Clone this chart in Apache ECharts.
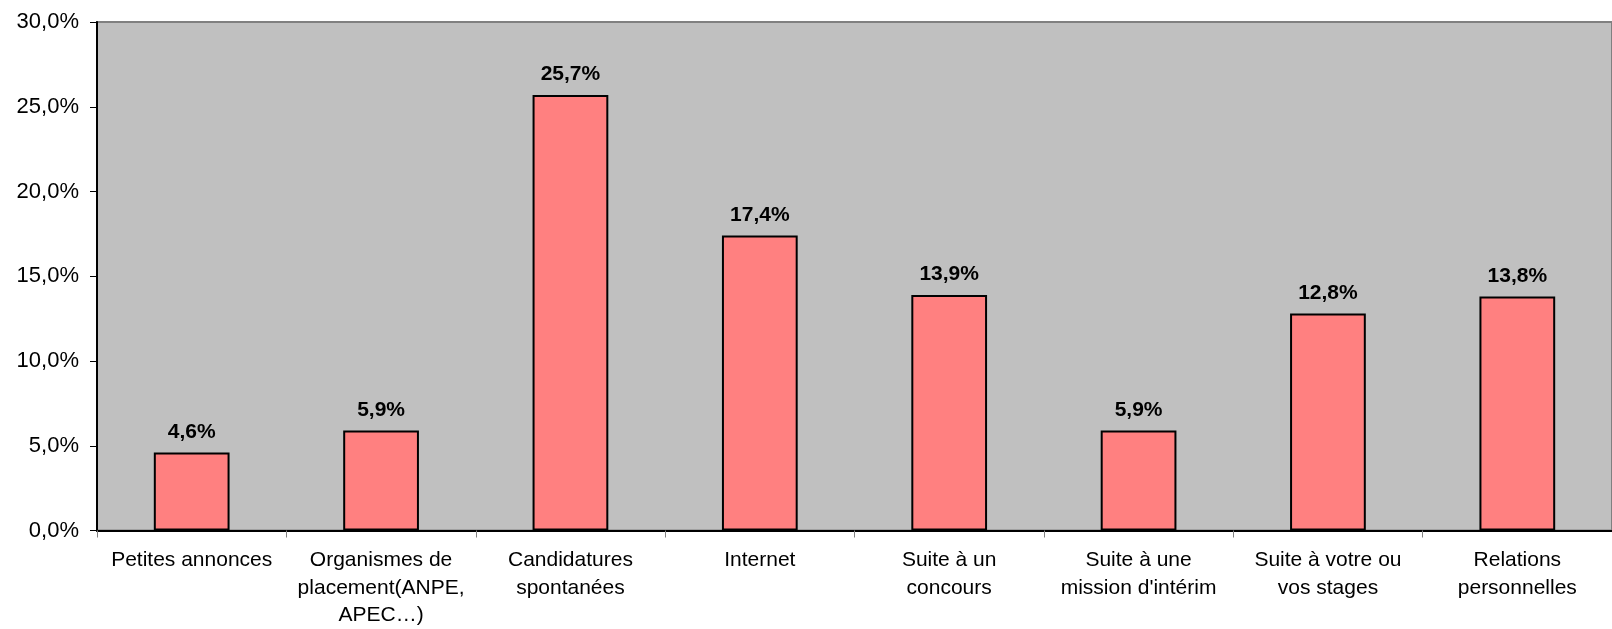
<!DOCTYPE html>
<html>
<head>
<meta charset="utf-8">
<script src="https://cdn.jsdelivr.net/npm/echarts@6/dist/echarts.min.js"></script>
<style>
html,body{margin:0;padding:0;background:#fff;}
#c{width:1612px;height:629px;}
</style>
</head>
<body>
<div id="c"></div>
<script>
const categories = [
  "Petites annonces",
  "Organismes de\nplacement(ANPE,\nAPEC…)",
  "Candidatures\nspontanées",
  "Internet",
  "Suite à un\nconcours",
  "Suite à une\nmission d'intérim",
  "Suite à votre ou\nvos stages",
  "Relations\npersonnelles"
];
const values = [4.6, 5.9, 25.7, 17.4, 13.9, 5.9, 12.8, 13.8];
const yTicks = { min: 0, max: 30, interval: 5 };

const FONT = "'Liberation Sans', Arial, sans-serif";
const fmt = v => v.toFixed(1).replace('.', ',') + '%';

const chart = echarts.init(document.getElementById('c'));
chart.setOption({
  animation: false,
  backgroundColor: '#ffffff',
  grid: {
    left: 97, top: 22, right: -18, bottom: 94,
    show: true, backgroundColor: '#C0C0C0', borderColor: '#808080', borderWidth: 2
  },
  xAxis: {
    type: 'category',
    data: categories,
    axisLine: { show: true, lineStyle: { color: '#000', width: 2 } },
    axisTick: { show: true, length: 7, alignWithLabel: false, lineStyle: { color: '#808080', width: 1 } },
    axisLabel: {
      interval: 0, color: '#000', fontFamily: FONT, fontSize: 21, lineHeight: 27.5, margin: 16
    },
    splitLine: { show: false }
  },
  yAxis: {
    type: 'value',
    min: yTicks.min, max: yTicks.max, interval: yTicks.interval,
    axisLine: { show: true, lineStyle: { color: '#000', width: 2 } },
    axisTick: { show: true, length: 7, lineStyle: { color: '#000', width: 1 } },
    axisLabel: { color: '#000', fontFamily: FONT, fontSize: 22, margin: 18, formatter: fmt },
    splitLine: { show: false }
  },
  series: [{
    type: 'bar',
    data: values,
    barCategoryGap: '60%',
    itemStyle: { color: '#FF8080', borderColor: '#000', borderWidth: 2 },
    label: {
      show: true, position: 'top', distance: 10,
      color: '#000', fontFamily: FONT, fontSize: 21, fontWeight: 'bold',
      formatter: p => fmt(p.value)
    }
  }]
});
</script>
</body>
</html>
